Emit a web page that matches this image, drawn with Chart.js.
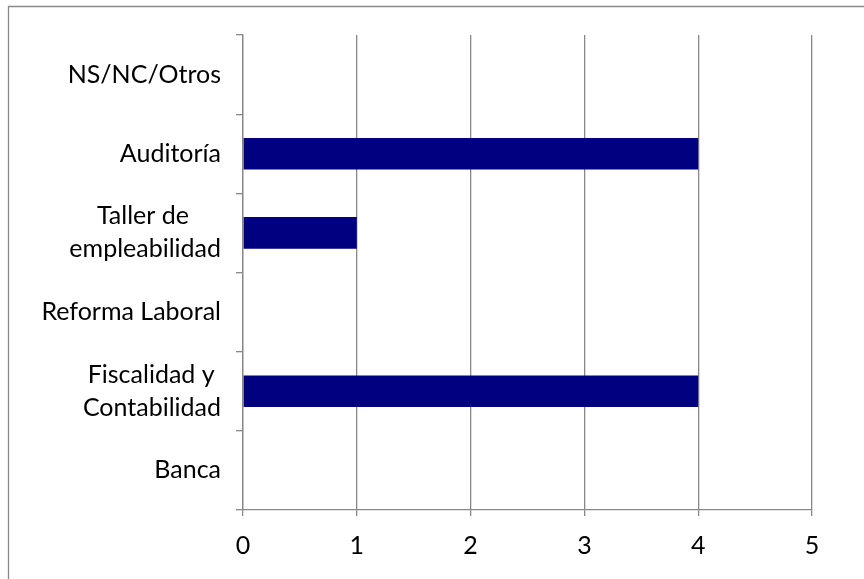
<!DOCTYPE html>
<html>
<head>
<meta charset="utf-8">
<script src="https://cdn.jsdelivr.net/npm/chart.js@4"></script>
<style>
html,body{margin:0;padding:0;background:#fff;}
#wrap{width:864px;height:579px;position:relative;}
</style>
</head>
<body>
<div id="wrap"><canvas id="c" width="864" height="579"></canvas></div>
<script>
const categories = [
  ["NS/NC/Otros"],
  ["Auditoría"],
  ["Taller de", "empleabilidad"],
  ["Reforma Laboral"],
  ["Fiscalidad y", "Contabilidad"],
  ["Banca"]
];
const values = [0, 4, 1, 0, 4, 0];
const xTicks = [0, 1, 2, 3, 4, 5];

const FONT = {family: "Lato, 'Open Sans', sans-serif", size: 25, lineHeight: 1.32};
const measureCtx = document.createElement('canvas').getContext('2d');
measureCtx.font = FONT.size + "px " + FONT.family;

function centerLines(lines) {
  if (lines.length < 2) return lines[0];
  const widths = lines.map(l => measureCtx.measureText(l).width);
  const maxW = Math.max(...widths);
  const sp = measureCtx.measureText(' ').width;
  return lines.map((l, i) => l + ' '.repeat(Math.round((maxW - widths[i]) / 2 / sp)));
}

const borderPlugin = {
  id: 'outerBorder',
  beforeDraw(chart) {
    const ctx = chart.ctx;
    ctx.save();
    ctx.fillStyle = '#fff';
    ctx.fillRect(0, 0, chart.width, chart.height);
    ctx.strokeStyle = '#888888';
    ctx.lineWidth = 1.3;
    ctx.beginPath();
    ctx.moveTo(8.5, chart.height + 5);
    ctx.lineTo(8.5, 6.5);
    ctx.lineTo(chart.width + 5, 6.5);
    ctx.stroke();
    ctx.restore();
  }
};

new Chart(document.getElementById('c'), {
  type: 'bar',
  data: {
    labels: categories.map(centerLines),
    datasets: [{
      data: values,
      backgroundColor: '#000080',
      borderWidth: 0,
      barPercentage: 0.4,
      categoryPercentage: 1.0
    }]
  },
  options: {
    indexAxis: 'y',
    responsive: false,
    devicePixelRatio: 1,
    animation: false,
    layout: {padding: {left: 0, right: 52, top: 35, bottom: 0}},
    plugins: {legend: {display: false}, tooltip: {enabled: false}},
    scales: {
      x: {
        min: 0, max: 5,
        afterBuildTicks(scale) { scale.ticks = xTicks.map(v => ({value: v})); },
        afterFit(scale) { scale.height = 69; },
        grid: {color: '#888888', lineWidth: 1.3, tickLength: 6, drawTicks: true},
        border: {display: true, color: '#888888', width: 1.3},
        ticks: {color: '#000', font: FONT, padding: 13}
      },
      y: {
        afterFit(scale) { scale.width = 243; },
        grid: {drawOnChartArea: false, drawTicks: true, tickLength: 7, color: '#888888', lineWidth: 1.3, offset: true},
        border: {display: true, color: '#888888', width: 1.3},
        ticks: {color: '#000', font: FONT, padding: 15, autoSkip: false}
      }
    }
  },
  plugins: [borderPlugin]
});
</script>
</body>
</html>
